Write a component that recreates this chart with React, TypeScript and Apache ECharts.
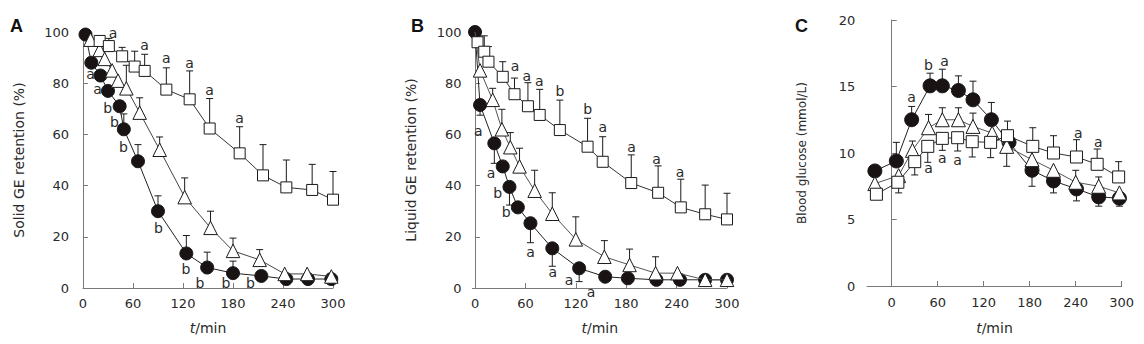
import React, { useEffect, useRef } from 'react';
import * as echarts from 'echarts';

// ---------- tick labels ----------
const xTicks = [0, 60, 120, 180, 240, 300];
const yTicksAB = [0, 20, 40, 60, 80, 100];
const yTicksC = [0, 5, 10, 15, 20];

// ---------- Panel A: solid GE retention (%) ----------
const circlesA = [[3, 99], [10, 88], [21, 83], [30, 77], [44, 71], [49, 62], [66, 49.5], [90, 30], [124, 13.5], [149, 8], [180, 5.8], [214, 4.7], [244, 3.5], [270, 3.5], [298, 3.5]];
const trianglesA = [[9, 97], [20, 93], [26, 89.5], [35, 85], [42, 81], [52, 78], [68, 68.5], [92, 54], [122, 35.5], [153, 23.5], [180, 14.5], [212, 11], [242, 5.5], [269, 5.5], [298, 4.5]];
const squaresA = [[20, 96.5], [31, 94.5], [47, 90.5], [62, 86.5], [74, 84.8], [100, 77.5], [128, 73.7], [152, 62.3], [188, 52.6], [216, 44], [244, 39.3], [275, 38.3], [300, 34.5]];
const errCirA = [[49, 62, 68], [66, 49.5, 56], [90, 30, 36], [124, 13.5, 20.5], [149, 8, 14], [180, 5.8, 10.5]];
const errTriA = [[52, 78, 87], [68, 68.5, 74.3], [92, 54, 59], [122, 35.5, 43], [153, 23.5, 30], [180, 14.5, 19.5], [212, 11, 15]];
const errSqA = [[31, 94.5, 97.5], [47, 90.5, 94], [62, 86.5, 92.5], [74, 84.8, 91.3], [100, 77.5, 86], [128, 73.7, 84.8], [152, 62.3, 74], [188, 52.6, 63], [216, 44, 56], [244, 39.3, 50], [275, 38.3, 48.3], [300, 34.5, 45.5]];
const lettersA = [
  [36, 99.5, 'a'], [74, 95, 'a'], [100, 89.7, 'a'], [128, 88, 'a'], [152, 77.3, 'a'], [188, 66.3, 'a'],
  [9, 83.6, 'a'], [17.6, 77.6, 'a'], [29.6, 70.2, 'b'], [37.6, 65, 'b'], [48.4, 55.2, 'b'], [90.4, 23.3, 'b'],
  [123.6, 7.3, 'b'], [140.4, 2.1, 'b'], [171.6, 2.1, 'b'], [201, 2.1, 'b'],
];

// ---------- Panel B: liquid GE retention (%) ----------
const circlesB = [[0, 100], [6, 71.5], [23, 56.5], [33, 47.5], [41, 39.5], [51, 31.5], [66, 25.3], [92, 15.5], [124, 7.7], [155, 4.4], [182, 3.8], [216, 3.2], [244, 3.2], [274, 3.2], [300, 3.2]];
const trianglesB = [[0, 100], [6, 85], [21, 73.5], [32, 62], [42, 55], [53, 47.5], [71, 38], [92, 29], [120, 19], [154, 12.2], [184, 9], [215, 5.8], [241, 5.8], [274, 3.2], [300, 3.2]];
const squaresB = [[3, 96], [11, 92.3], [16, 88.4], [33, 82.5], [47, 75.7], [63, 71], [77, 67.6], [101, 61.7], [134, 55.2], [152, 49.3], [186, 41], [218, 37.2], [245, 31.5], [274, 28.8], [300, 26.8]];
const errCirB = [[6, 71.5, 67.5], [23, 56.5, 48.7], [41, 39.5, 32.4], [66, 25.3, 17.7], [92, 15.5, 8.5], [124, 7.7, 2.5]];
const errTriB = [[21, 73.5, 78], [32, 62, 69.8], [42, 55, 60.7], [53, 47.5, 54.6], [71, 38, 46], [92, 29, 37.2], [120, 19, 27.8], [154, 12.2, 18.5], [184, 9, 15.2], [215, 5.8, 12.2]];
const errSqB = [[11, 92.3, 98.5], [16, 88.4, 94.3], [33, 82.5, 88.4], [47, 75.7, 82], [63, 71, 80.2], [77, 67.6, 77.6], [101, 61.7, 73.4], [134, 55.2, 66.3], [152, 49.3, 59.1], [186, 41, 52], [218, 37.2, 47.7], [245, 31.5, 42.5], [274, 28.8, 40.2], [300, 26.8, 37]];
const lettersB = [
  [47.6, 86.8, 'a'], [61.5, 82.8, 'a'], [76.6, 80.9, 'a'], [101, 77, 'b'], [134, 69.8, 'b'], [152, 62.8, 'a'],
  [186.5, 55.2, 'a'], [216, 50.3, 'a'], [244, 45.2, 'a'],
  [4, 61.3, 'a'], [19, 45, 'a'], [27, 37, 'b'], [37, 29.8, 'b'], [66, 14.2, 'a'], [92.5, 6.4, 'a'], [112, 3.1, 'a'], [138, -1.5, 'a'],
];

// ---------- Panel C: blood glucose (mmol/L) ----------
const circlesC = [[-22, 8.65], [6, 9.4], [26, 12.5], [50, 15.05], [66, 15.05], [87, 14.7], [106, 14.0], [130, 12.5], [153, 10.8], [183, 8.7], [211, 7.9], [241, 7.3], [270, 6.7], [297, 6.6]];
const trianglesC = [[-22, 7.7], [9, 8.3], [27, 10.2], [48, 11.9], [66, 12.5], [87, 12.5], [106, 12.0], [131, 11.5], [150, 10.5], [183, 9.5], [211, 8.7], [240, 7.8], [270, 7.5], [297, 7.0]];
const squaresC = [[-20, 6.9], [8, 7.8], [30, 9.35], [47, 10.5], [66, 11.1], [86, 11.15], [105, 10.85], [129, 10.8], [151, 11.3], [184, 10.5], [211, 10.0], [241, 9.7], [268, 9.15], [296, 8.2]];
const errCirC = [[6, 9.4, 10.8], [26, 12.5, 13.5], [50, 15.05, 16.0], [66, 15.05, 16.3], [87, 14.7, 15.8], [106, 14.0, 15.4], [130, 12.5, 13.8], [183, 8.7, 7.5], [211, 7.9, 7.0], [241, 7.3, 6.4], [270, 6.7, 6.0], [297, 6.6, 6.0]];
const errTriC = [[9, 8.3, 7.0], [27, 10.2, 10.9], [48, 11.9, 12.9], [66, 12.5, 13.4], [87, 12.5, 13.4], [106, 12.0, 13.0], [150, 10.5, 9.0], [240, 7.8, 8.7], [270, 7.5, 8.2]];
const errSqC = [[30, 9.35, 8.35], [47, 10.5, 9.3], [66, 11.1, 10.2], [86, 11.15, 10.15], [105, 10.85, 9.7], [129, 10.8, 9.65], [151, 11.3, 12.4], [184, 10.5, 11.9], [211, 10.0, 11.3], [241, 9.7, 11.0], [268, 9.15, 10.3], [296, 8.2, 9.35]];
const lettersC = [
  [26, 14.2, 'a'], [48, 16.6, 'b'], [69, 16.9, 'a'], [48, 8.85, 'a'], [66, 9.6, 'a'], [86, 9.47, 'a'], [243.5, 11.5, 'a'], [269.5, 10.8, 'a'],
];

const FONT = 'DejaVu Sans';
const AXIS_COLOR = '#7a7a7a';
const TEXT_COLOR = '#2a2a2a';

function lineSeries(idx: number, data: any[], symbol: string, fill: string, size: number, lineColor: string, z: number) {
  return {
    type: 'line', xAxisIndex: idx, yAxisIndex: idx, data, symbol, symbolSize: size, showSymbol: true,
    lineStyle: { color: lineColor, width: 1 },
    itemStyle: { color: fill, borderColor: '#1a1a1a', borderWidth: 1, opacity: 1 },
    z, silent: true, clip: false, emphasis: { disabled: true },
  };
}

function errSeries(idx: number, data: number[][], color: string) {
  return {
    type: 'custom', xAxisIndex: idx, yAxisIndex: idx, data, z: 1, silent: true, clip: false,
    encode: { x: 0, y: [1, 2] },
    renderItem: (_p: any, api: any) => {
      const t = api.value(0), a = api.value(1), b = api.value(2);
      const p1 = api.coord([t, a]);
      const p2 = api.coord([t, b]);
      return {
        type: 'group',
        children: [
          { type: 'line', shape: { x1: p1[0], y1: p1[1], x2: p2[0], y2: p2[1] }, style: { stroke: color, lineWidth: 1 } },
          { type: 'line', shape: { x1: p2[0] - 3.5, y1: p2[1], x2: p2[0] + 3.5, y2: p2[1] }, style: { stroke: color, lineWidth: 1 } },
        ],
      };
    },
  };
}

function letterSeries(idx: number, data: (number | string)[][]) {
  return {
    type: 'custom', xAxisIndex: idx, yAxisIndex: idx, data: data.map((d) => [d[0], d[1]]), z: 10, silent: true, clip: false,
    renderItem: (params: any, api: any) => {
      const p = api.coord([api.value(0), api.value(1)]);
      return {
        type: 'text', x: p[0], y: p[1],
        style: {
          text: String(data[params.dataIndex][2]), fontSize: 14, fontFamily: FONT, fill: TEXT_COLOR,
          align: 'center', verticalAlign: 'middle', textAlign: 'center', textVerticalAlign: 'middle',
        },
      };
    },
  };
}

function xAxis(idx: number, min: number, nameGap: number, labelMargin: number) {
  return {
    type: 'value', gridIndex: idx, min, max: 300,
    axisLine: { show: true, lineStyle: { color: AXIS_COLOR, width: 1 } },
    axisTick: { show: true, inside: true, length: 5, lineStyle: { color: AXIS_COLOR }, customValues: xTicks },
    axisLabel: { margin: labelMargin, fontSize: 13, fontFamily: FONT, color: TEXT_COLOR, customValues: xTicks },
    splitLine: { show: false },
    name: '{i|t}/min', nameLocation: 'middle', nameGap,
    nameTextStyle: {
      fontSize: 14, fontFamily: FONT, color: TEXT_COLOR, verticalAlign: 'top',
      rich: { i: { fontStyle: 'italic', fontSize: 14, fontFamily: FONT, color: TEXT_COLOR } },
    },
  };
}

function yAxis(idx: number, max: number, ticks: number[], name: string, nameGap: number, nameSize: number, labelMargin: number) {
  return {
    type: 'value', gridIndex: idx, min: 0, max,
    axisLine: { show: true, lineStyle: { color: AXIS_COLOR, width: 1 } },
    axisTick: { show: true, inside: true, length: 5, lineStyle: { color: AXIS_COLOR }, customValues: ticks },
    axisLabel: { margin: labelMargin, fontSize: 13, fontFamily: FONT, color: TEXT_COLOR, customValues: ticks },
    splitLine: { show: false },
    name, nameLocation: 'middle', nameGap, nameRotate: 90,
    nameTextStyle: { fontSize: nameSize, fontFamily: FONT, color: TEXT_COLOR },
  };
}

export default function App() {
  const ref = useRef<HTMLDivElement>(null);
  useEffect(() => {
    if (!ref.current) return;
    const chart = echarts.init(ref.current, undefined, { renderer: 'svg' });
    // the t=0 triangle in panel B lies hidden under the filled circle: keep the line, hide its marker
    const trianglesBItems = trianglesB.map((d, i) => (i === 0 ? { value: d, symbol: 'none' } : d));
    const option: any = {
      animation: false,
      backgroundColor: '#ffffff',
      grid: [
        { left: 83, top: 32, width: 250, height: 256, outerBoundsMode: 'none' },
        { left: 472.5, top: 32, width: 254.5, height: 256, outerBoundsMode: 'none' },
        { left: 867.2, top: 20, width: 254.5, height: 266, outerBoundsMode: 'none' },
      ],
      xAxis: [xAxis(0, 0, 33, 9), xAxis(1, -3, 33, 9), xAxis(2, -32, 35, 10)],
      yAxis: [
        yAxis(0, 100, yTicksAB, 'Solid GE retention (%)', 57, 14, 14),
        yAxis(1, 100, yTicksAB, 'Liquid GE retention (%)', 55, 14, 11),
        yAxis(2, 20, yTicksC, 'Blood glucose (mmol/L)', 59, 12, 12),
      ],
      graphic: [
        { type: 'text', left: 10, top: 17, style: { text: 'A', font: 'bold 18px "Liberation Sans", Arial, sans-serif', fill: '#111' } },
        { type: 'text', left: 411, top: 17, style: { text: 'B', font: 'bold 18px "Liberation Sans", Arial, sans-serif', fill: '#111' } },
        { type: 'text', left: 795, top: 17, style: { text: 'C', font: 'bold 18px "Liberation Sans", Arial, sans-serif', fill: '#111' } },
      ],
      series: [
        errSeries(0, errCirA, '#1a1a1a'), errSeries(0, errTriA, '#1a1a1a'), errSeries(0, errSqA, '#1a1a1a'),
        lineSeries(0, circlesA, 'circle', '#1a1313', 13, '#222', 2),
        lineSeries(0, trianglesA, 'triangle', '#ffffff', 13.5, '#444', 3),
        lineSeries(0, squaresA, 'rect', '#ffffff', 11, '#333', 4),
        letterSeries(0, lettersA),

        errSeries(1, errCirB, '#1a1a1a'), errSeries(1, errTriB, '#1a1a1a'), errSeries(1, errSqB, '#1a1a1a'),
        lineSeries(1, circlesB, 'circle', '#1a1313', 13, '#222', 2),
        lineSeries(1, trianglesBItems, 'triangle', '#ffffff', 13.5, '#555', 3),
        lineSeries(1, squaresB, 'rect', '#ffffff', 11, '#333', 4),
        letterSeries(1, lettersB),

        errSeries(2, errCirC, '#1a1a1a'), errSeries(2, errTriC, '#1a1a1a'), errSeries(2, errSqC, '#1a1a1a'),
        lineSeries(2, circlesC, 'circle', '#1a1313', 14, '#222', 2),
        lineSeries(2, trianglesC, 'triangle', '#ffffff', 14, '#555', 3),
        lineSeries(2, squaresC, 'rect', '#ffffff', 12, '#333', 4),
        letterSeries(2, lettersC),
      ],
    };
    chart.setOption(option);
    return () => chart.dispose();
  }, []);
  return <div ref={ref} style={{ position: 'absolute', left: 0, top: 0, width: 1144, height: 344, background: '#fff' }} />;
}
